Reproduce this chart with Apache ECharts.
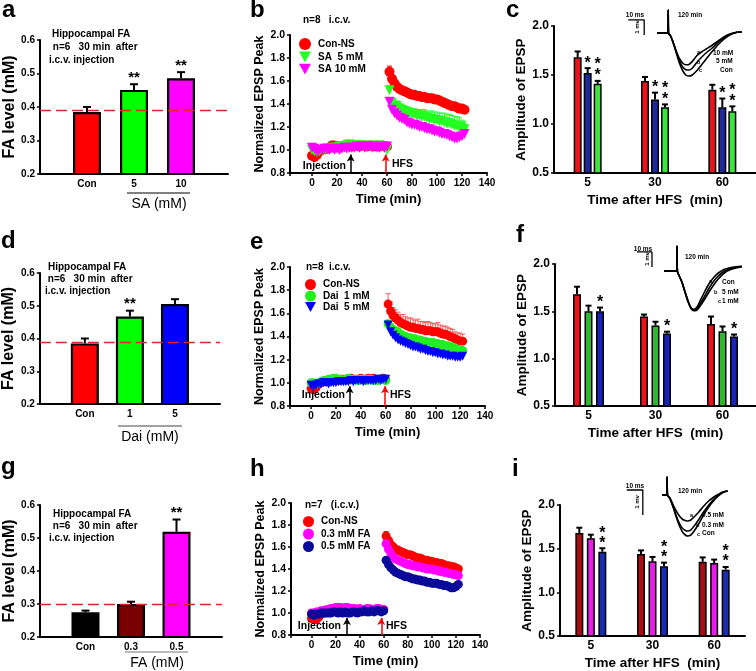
<!DOCTYPE html>
<html><head><meta charset="utf-8">
<script src="https://cdn.jsdelivr.net/npm/echarts/dist/echarts.min.js"></script>
<style>html,body{margin:0;padding:0;background:#fff}#c{width:756px;height:671px}</style>
</head><body><div id="c"></div>
<script>
// ================= DATA =================
// Panels a, d, g : FA level bars
const aCats = ['Con', '5', '10'];
const aVals = [0.385, 0.451, 0.486];
const aErr  = [0.015, 0.017, 0.018];
const aSig  = ['', '**', '**'];
const aRef  = 0.39;

const dCats = ['Con', '1', '5'];
const dVals = [0.385, 0.467, 0.505];
const dErr  = [0.015, 0.018, 0.015];
const dSig  = ['', '**', ''];
const dRef  = 0.39;

const gCats = ['Con', '0.3', '0.5'];
const gVals = [0.275, 0.300, 0.519];
const gErr  = [0.005, 0.007, 0.037];
const gSig  = ['', '', '**'];
const gRef  = 0.30;

// Panels b, e, h : time courses (min)
const tBase = [0,2,4,6,8,10,12,14,16,18,20,22,24,26,28,30,32,34,36,38,40,42,44,46,48,50,52,54,56,58,60];
const tPost = [62,64,66,68,70,72,74,76,78,80,82,84,86,88,90,92,94,96,98,100,102,104,106,108,110,112,114,116,118,120,122];

const bRedBase = [0.95,0.94,0.96,0.99,1.00,1.01,1.01,1.02,1.04,1.04,1.03,1.03,1.03,1.04,1.04,1.03,1.03,1.04,1.04,1.03,1.04,1.04,1.03,1.04,1.04,1.03,1.04,1.03,1.04,1.03,1.03];
const bRedPost = [1.68,1.62,1.58,1.55,1.53,1.52,1.51,1.50,1.49,1.48,1.48,1.47,1.47,1.46,1.46,1.45,1.45,1.45,1.44,1.44,1.43,1.42,1.41,1.40,1.39,1.38,1.38,1.37,1.36,1.36,1.35];
const bRedErr  = [0.05,0.03,0.03,0.02,0.02,0.02,0.02,0.02,0.02,0.02,0.02,0.03,0.02,0.02,0.02,0.02,0.02,0.03,0.02,0.02,0.02,0.02,0.03,0.02,0.02,0.02,0.02,0.02,0.02,0.02,0.02];
const bGreenBase = [1.00,0.99,0.98,0.99,1.00,1.00,1.01,1.01,1.02,1.02,1.02,1.03,1.03,1.03,1.04,1.05,1.04,1.04,1.04,1.04,1.03,1.04,1.03,1.03,1.04,1.03,1.03,1.04,1.03,1.02,1.00];
const bGreenPost = [1.52,1.41,1.39,1.38,1.36,1.35,1.34,1.33,1.32,1.31,1.31,1.30,1.30,1.29,1.29,1.28,1.27,1.27,1.26,1.26,1.25,1.25,1.24,1.23,1.23,1.22,1.21,1.21,1.20,1.19,1.18];
const bGreenErr  = [0.04,0.03,0.03,0.03,0.04,0.04,0.04,0.04,0.05,0.05,0.05,0.05,0.05,0.06,0.06,0.06,0.06,0.07,0.07,0.07,0.07,0.07,0.08,0.08,0.08,0.08,0.08,0.08,0.08,0.07,0.07];
const bMagBase = [1.02,1.01,0.99,1.00,1.00,1.01,1.01,1.00,1.01,1.00,1.01,1.00,1.01,1.02,1.01,1.02,1.02,1.02,1.03,1.02,1.03,1.02,1.03,1.03,1.02,1.03,1.02,1.02,1.03,1.02,1.03];
const bMagPost = [1.42,1.35,1.32,1.30,1.28,1.27,1.26,1.24,1.23,1.22,1.22,1.21,1.20,1.20,1.19,1.18,1.18,1.17,1.16,1.16,1.15,1.14,1.14,1.13,1.12,1.11,1.10,1.10,1.11,1.12,1.14];
const bMagErr  = [0.03,0.02,0.02,0.02,0.02,0.02,0.02,0.02,0.02,0.02,0.02,0.02,0.02,0.02,0.02,0.02,0.02,0.02,0.02,0.02,0.02,0.02,0.02,0.02,0.02,0.02,0.02,0.02,0.02,0.02,0.02];

const eRedBase = [0.95,0.94,0.96,0.99,1.00,1.01,1.01,1.02,1.02,1.03,1.03,1.02,1.03,1.03,1.03,1.03,1.04,1.03,1.03,1.03,1.04,1.03,1.03,1.04,1.03,1.04,1.03,1.03,1.03,1.04,1.03];
const eRedPost = [1.68,1.62,1.58,1.56,1.54,1.52,1.51,1.50,1.49,1.48,1.48,1.47,1.47,1.46,1.46,1.45,1.45,1.45,1.44,1.44,1.44,1.43,1.42,1.42,1.41,1.40,1.39,1.38,1.37,1.36,1.36];
const eRedErr  = [0.09,0.08,0.07,0.07,0.07,0.07,0.08,0.07,0.07,0.08,0.07,0.07,0.08,0.07,0.07,0.07,0.08,0.07,0.07,0.07,0.08,0.07,0.07,0.07,0.07,0.07,0.07,0.06,0.06,0.07,0.06];
const eGreenBase = [1.00,1.00,0.99,1.00,1.01,1.02,1.02,1.03,1.03,1.04,1.04,1.03,1.03,1.02,1.03,1.04,1.03,1.03,1.03,1.02,1.03,1.03,1.02,1.03,1.03,1.02,1.03,1.02,1.03,1.03,1.02];
const eGreenPost = [1.51,1.48,1.46,1.45,1.44,1.42,1.41,1.40,1.39,1.39,1.38,1.38,1.37,1.37,1.36,1.36,1.35,1.35,1.35,1.34,1.34,1.33,1.33,1.32,1.32,1.31,1.31,1.30,1.29,1.29,1.28];
const eGreenErr  = [0.03,0.03,0.02,0.02,0.03,0.02,0.02,0.03,0.02,0.02,0.03,0.02,0.02,0.03,0.02,0.02,0.03,0.02,0.02,0.03,0.02,0.02,0.03,0.02,0.02,0.03,0.02,0.02,0.03,0.02,0.02];
const eBlueBase = [0.98,0.97,0.98,0.99,0.99,1.00,1.00,0.99,1.00,1.00,1.00,1.01,1.01,1.01,1.01,1.01,1.02,1.01,1.02,1.02,1.02,1.01,1.02,1.02,1.02,1.02,1.02,1.03,1.02,1.03,1.03];
const eBluePost = [1.50,1.44,1.41,1.39,1.37,1.36,1.35,1.34,1.33,1.32,1.31,1.31,1.30,1.29,1.29,1.28,1.27,1.27,1.26,1.26,1.25,1.25,1.24,1.24,1.23,1.23,1.23,1.22,1.22,1.22,1.23];
const eBlueErr  = [0.02,0.02,0.02,0.02,0.02,0.02,0.02,0.02,0.02,0.02,0.02,0.02,0.02,0.02,0.02,0.02,0.02,0.02,0.02,0.02,0.02,0.02,0.02,0.02,0.02,0.02,0.02,0.02,0.02,0.02,0.02];

const hRedBase = [0.95,0.94,0.94,0.96,0.99,1.00,1.01,1.01,1.02,1.02,1.02,1.02,1.03,1.02,1.03,1.02,1.03,1.02,1.02,1.02,1.03,1.03,1.02,1.03,1.02,1.03,1.02,1.03,1.03,1.02,1.03];
const hRedPost = [1.70,1.66,1.62,1.60,1.58,1.57,1.56,1.55,1.54,1.53,1.53,1.52,1.51,1.50,1.50,1.49,1.48,1.48,1.47,1.47,1.46,1.46,1.45,1.45,1.44,1.43,1.43,1.42,1.42,1.41,1.40];
const hRedErr  = [0.04,0.03,0.03,0.02,0.02,0.02,0.02,0.02,0.02,0.02,0.02,0.02,0.02,0.02,0.02,0.02,0.02,0.02,0.02,0.02,0.02,0.02,0.02,0.02,0.02,0.02,0.02,0.02,0.02,0.02,0.02];
const hMagBase = [1.00,1.00,1.01,1.01,1.02,1.02,1.03,1.03,1.04,1.04,1.05,1.05,1.05,1.04,1.05,1.05,1.04,1.04,1.04,1.03,1.04,1.03,1.03,1.04,1.04,1.03,1.03,1.04,1.04,1.03,1.03];
const hMagPost = [1.63,1.58,1.54,1.51,1.49,1.48,1.47,1.46,1.45,1.44,1.44,1.43,1.43,1.42,1.42,1.41,1.41,1.40,1.40,1.40,1.39,1.39,1.38,1.38,1.37,1.37,1.36,1.36,1.35,1.35,1.34];
const hMagErr  = [0.03,0.02,0.02,0.02,0.02,0.02,0.02,0.02,0.02,0.02,0.02,0.02,0.02,0.02,0.02,0.02,0.02,0.02,0.02,0.02,0.02,0.02,0.02,0.02,0.02,0.02,0.02,0.02,0.02,0.02,0.02];
const hBlueBase = [0.99,0.98,0.99,0.99,1.00,1.00,1.00,1.00,1.00,1.01,1.01,1.00,1.01,1.00,1.01,1.00,1.00,1.01,1.01,1.00,1.01,1.01,1.02,1.01,1.01,1.02,1.01,1.02,1.02,1.01,1.02];
const hBluePost = [1.48,1.44,1.41,1.39,1.37,1.36,1.35,1.34,1.33,1.33,1.32,1.31,1.31,1.30,1.30,1.29,1.29,1.28,1.28,1.27,1.27,1.27,1.26,1.26,1.25,1.25,1.24,1.23,1.23,1.24,1.26];
const hBlueErr  = [0.02,0.02,0.02,0.02,0.02,0.02,0.02,0.02,0.02,0.02,0.02,0.02,0.02,0.02,0.02,0.02,0.02,0.02,0.02,0.02,0.02,0.02,0.02,0.02,0.02,0.02,0.02,0.02,0.02,0.02,0.02];

// arrows: [injection time, HFS time, arrow tip value]
const bArrows = [31, 59, 0.96];
const eArrows = [31, 59.5, 0.97];
const hArrows = [29.5, 58, 0.955];

// Panels c, f, i : amplitude of EPSP at 5/30/60 min after HFS
const hfsCats = ['5', '30', '60'];
const cRed = [1.68, 1.44, 1.35];   const cRedErr = [0.06, 0.04, 0.05];
const cBlue = [1.52, 1.25, 1.17];  const cBlueErr = [0.05, 0.07, 0.09];
const cGreen = [1.41, 1.17, 1.13]; const cGreenErr = [0.03, 0.03, 0.05];
const cBlueStars = [1, 1, 1];  const cGreenStars = [2, 2, 2];

const fRed = [1.68, 1.446, 1.365];  const fRedErr = [0.08, 0.02, 0.08];
const fGreen = [1.50, 1.35, 1.29];  const fGreenErr = [0.06, 0.04, 0.05];
const fBlue = [1.50, 1.265, 1.235]; const fBlueErr = [0.04, 0.02, 0.02];
const fBlueStars = [1, 1, 1];

const iRed = [1.68, 1.44, 1.35];   const iRedErr = [0.06, 0.04, 0.05];
const iMag = [1.62, 1.355, 1.335]; const iMagErr = [0.04, 0.05, 0.04];
const iBlue = [1.465, 1.30, 1.26]; const iBlueErr = [0.04, 0.04, 0.03];
const iBlueStars = [2, 2, 2];

// Inset EPSP traces (ms, mV)
const cInsetT   = [0, 6.8, 7.0, 7.2, 8.5, 10, 12, 14, 16, 18, 20, 22, 25, 28, 31, 34, 38, 42, 46, 50, 53];
const cInsetCon = [0, 0, 1.53, 0, -0.2, -0.6, -1.3, -2.0, -2.5, -2.8, -2.87, -2.8, -2.5, -2.1, -1.7, -1.3, -0.8, -0.4, -0.1, 0.05, 0.07];
const cInset5   = [0, 0, 1.53, 0, -0.2, -0.6, -1.25, -1.85, -2.25, -2.45, -2.47, -2.35, -1.95, -1.6, -1.3, -1.05, -0.65, -0.3, -0.08, 0.05, 0.07];
const cInset10  = [0, 0, 1.53, 0, -0.2, -0.6, -1.2, -1.7, -2.0, -2.12, -2.1, -1.9, -1.5, -1.25, -1.05, -0.85, -0.55, -0.25, -0.05, 0.05, 0.07];
const cScaleT = [-18, -8, -8];
const cScaleV = [0.87, 0.87, -0.13];

const fInsetT   = [0, 8.5, 8.7, 8.9, 10, 12, 14, 16, 18, 20, 22, 24, 27, 30, 33, 36, 40, 44, 48, 52];
const fInsetCon = [0, 0, 1.67, 0, -0.3, -0.75, -1.4, -2.0, -2.45, -2.55, -2.4, -2.0, -1.4, -0.85, -0.45, -0.15, 0.1, 0.22, 0.28, 0.32];
const fInset5   = [0, 0, 1.67, 0, -0.3, -0.75, -1.4, -2.0, -2.45, -2.6, -2.5, -2.2, -1.7, -1.15, -0.7, -0.35, -0.02, 0.15, 0.25, 0.3];
const fInset1   = [0, 0, 1.67, 0, -0.3, -0.75, -1.4, -2.05, -2.5, -2.65, -2.6, -2.35, -1.9, -1.4, -0.95, -0.55, -0.15, 0.08, 0.2, 0.28];
const fScaleT = [-18, -8, -8];
const fScaleV = [1.27, 1.27, 0.27];

const iInsetT   = [0, 3, 3.2, 3.4, 5, 7, 9, 11, 13, 15, 16, 18, 20, 23, 26, 29, 32, 35, 38, 41];
const iInsetCon = [0, 0, 0.72, 0, -0.15, -0.5, -0.9, -1.25, -1.5, -1.62, -1.64, -1.6, -1.45, -1.15, -0.8, -0.5, -0.25, -0.05, 0.1, 0.16];
const iInset03  = [0, 0, 0.72, 0, -0.15, -0.48, -0.85, -1.15, -1.35, -1.43, -1.44, -1.4, -1.25, -0.98, -0.68, -0.42, -0.2, -0.03, 0.1, 0.16];
const iInset05  = [0, 0, 0.72, 0, -0.12, -0.4, -0.65, -0.85, -0.98, -1.03, -1.04, -1.0, -0.88, -0.68, -0.45, -0.25, -0.1, 0.02, 0.12, 0.16];
const iScaleT = [-22, -12, -12];
const iScaleV = [0.2, 0.2, -0.8];

// ================= BUILD =================
const FONT = '"Liberation Sans", Arial, Helvetica, sans-serif';
const grids = [], xAxes = [], yAxes = [], series = [], legends = [], graphics = [];
const TRI_DOWN = 'path://M0,0L10,0L5,9Z';

function addGrid(g) { grids.push(Object.assign({ containLabel: false }, g)); return grids.length - 1; }
function txt(text, x, y, size, o) {
  o = o || {};
  const al = o.align || 'left', va = o.va || 'middle';
  graphics.push({ type: 'text', x: x, y: y, rotation: o.rot || 0, silent: true, z: 50,
    style: { text: text, x: 0, y: 0, font: (o.w || 'bold') + ' ' + size + 'px ' + FONT, fill: o.color || '#000',
      textAlign: al, textVerticalAlign: va, align: al, verticalAlign: va } });
}
function hline(x1, x2, y, color) {
  graphics.push({ type: 'line', silent: true, z: 50, shape: { x1: x1, y1: y, x2: x2, y2: y }, style: { stroke: color || '#000', lineWidth: 1 } });
}
const axisLineBlack = { show: true, onZero: false, lineStyle: { color: '#000', width: 2 } };

// ---------- bar panels a/d/g ----------
function barPanel(p) {
  const gi = addGrid(p.grid);
  xAxes.push({ type: 'category', gridIndex: gi, data: [''].concat(p.cats, ['']), boundaryGap: false,
    axisLine: axisLineBlack, axisTick: { show: false }, splitLine: { show: false },
    axisLabel: { color: '#000', fontWeight: 'bold', fontSize: 10, fontFamily: FONT, margin: 5, interval: 0 } });
  yAxes.push({ type: 'value', gridIndex: gi, min: 0.2, max: 0.6, interval: 0.1,
    axisLine: axisLineBlack, axisTick: { show: true, length: 3, lineStyle: { color: '#000', width: 1.5 } },
    axisLabel: { color: '#000', fontWeight: 'bold', fontSize: 10, fontFamily: FONT, margin: 5, formatter: v => v.toFixed(1) },
    splitLine: { show: false }, name: 'FA level (mM)', nameLocation: 'middle', nameGap: 18,
    nameTextStyle: { color: '#000', fontWeight: 'bold', fontSize: 16, fontFamily: FONT } });
  series.push({ type: 'bar', xAxisIndex: gi, yAxisIndex: gi, barWidth: 28, clip: true,
    data: [null].concat(p.vals.map((v, i) => ({ value: v, itemStyle: { color: p.colors[i] } })), [null]),
    itemStyle: { borderColor: '#000', borderWidth: 2.2 },
    markLine: { silent: true, symbol: 'none', label: { show: false }, animation: false,
      lineStyle: { color: '#e0262c', type: [11, 5], width: 1.3 }, data: [{ yAxis: p.ref }] } });
  const sig = p.sig;
  series.push({ type: 'custom', xAxisIndex: gi, yAxisIndex: gi, z: 3,
    data: p.vals.map((v, i) => [i + 1, v, p.err[i]]),
    renderItem: (params, api) => {
      const c0 = api.coord([api.value(0), api.value(1)]);
      const c1 = api.coord([api.value(0), api.value(1) + api.value(2)]);
      const ch = [
        { type: 'line', shape: { x1: c0[0], y1: c0[1], x2: c1[0], y2: c1[1] }, style: { stroke: '#000', lineWidth: 2 } },
        { type: 'line', shape: { x1: c1[0] - 4, y1: c1[1], x2: c1[0] + 4, y2: c1[1] }, style: { stroke: '#000', lineWidth: 2 } }];
      const s = sig[params.dataIndex];
      if (s) ch.push({ type: 'text', style: { text: s, x: c1[0], y: c1[1] + 1, align: 'center', verticalAlign: 'bottom',
        font: 'bold 15px ' + FONT, fill: '#000' } });
      return { type: 'group', children: ch };
    } });
}

// ---------- time-course panels b/e/h ----------
function errLine(color) {
  return (params, api) => {
    const c0 = api.coord([api.value(0), api.value(1)]);
    const c1 = api.coord([api.value(0), api.value(1) + api.value(2)]);
    return { type: 'group', children: [
      { type: 'line', shape: { x1: c0[0], y1: c0[1], x2: c1[0], y2: c1[1] }, style: { stroke: color, lineWidth: 1 } },
      { type: 'line', shape: { x1: c1[0] - 2.5, y1: c1[1], x2: c1[0] + 2.5, y2: c1[1] }, style: { stroke: color, lineWidth: 1 } }] };
  };
}
function linePanel(p) {
  const gi = addGrid(p.grid);
  xAxes.push({ type: 'value', gridIndex: gi, min: p.xmin, max: 140, splitNumber: 8,
    axisLine: axisLineBlack, axisTick: { show: true, length: 3, lineStyle: { color: '#000', width: 1.5 } },
    axisLabel: { color: '#000', fontWeight: 'bold', fontSize: 10, fontFamily: FONT, margin: 5, formatter: v => (v < 0 ? '' : String(v)) },
    splitLine: { show: false }, name: 'Time (min)', nameLocation: 'middle', nameGap: 20,
    nameTextStyle: { color: '#000', fontWeight: 'bold', fontSize: 13, fontFamily: FONT } });
  yAxes.push({ type: 'value', gridIndex: gi, min: 0.8, max: 2.0, interval: 0.2,
    axisLine: axisLineBlack, axisTick: { show: true, length: 3, lineStyle: { color: '#000', width: 1.5 } },
    axisLabel: { color: '#000', fontWeight: 'bold', fontSize: 10.5, fontFamily: FONT, margin: 5, formatter: v => v.toFixed(1) },
    splitLine: { show: false }, name: 'Normalized EPSP Peak', nameLocation: 'middle', nameGap: 22,
    nameTextStyle: { color: '#000', fontWeight: 'bold', fontSize: 12.5, fontFamily: FONT } });
  p.groups.forEach((g, k) => {
    series.push({ type: 'custom', xAxisIndex: gi, yAxisIndex: gi, silent: true,
      data: tPost.map((t, i) => [t, g.post[i], g.err[i]]), renderItem: errLine(g.errColor || g.color) });
    const s = { type: 'scatter', name: p.id + '|' + g.name, xAxisIndex: gi, yAxisIndex: gi,
      symbol: g.symbol, symbolSize: g.size, itemStyle: { color: g.color, opacity: 1 },
      data: tBase.map((t, i) => [t, g.base[i]]).concat(tPost.map((t, i) => [t, g.post[i]])) };
    if (k === 0) {
      s.markLine = { silent: true, symbol: ['none', 'arrow'], symbolSize: [6, 7], label: { show: false }, animation: false,
        data: [
          [{ coord: [p.arrows[0], 0.8], lineStyle: { color: '#000', width: 1.5, type: 'solid' } }, { coord: [p.arrows[0], p.arrows[2]] }],
          [{ coord: [p.arrows[1], 0.8], lineStyle: { color: '#f00', width: 1.5, type: 'solid' } }, { coord: [p.arrows[1], p.arrows[2]] }]] };
    }
    series.push(s);
  });
  legends.push(Object.assign({ show: true, orient: 'vertical', selectedMode: false, padding: 0,
    data: p.groups.map(g => ({ name: p.id + '|' + g.name, icon: g.symbol })),
    formatter: n => n.split('|')[1],
    textStyle: { color: '#000', fontWeight: 'bold', fontSize: 10, fontFamily: FONT, padding: [0, 0, 0, 2] } }, p.legend));
}

// ---------- grouped bar panels c/f/i ----------
function groupPanel(p) {
  const gi = addGrid(p.grid);
  xAxes.push({ type: 'category', gridIndex: gi, data: hfsCats, boundaryGap: true,
    axisLine: axisLineBlack, axisTick: { show: false }, splitLine: { show: false },
    axisLabel: { color: '#000', fontWeight: 'bold', fontSize: 12, fontFamily: FONT, margin: 4, interval: 0 },
    name: 'Time after HFS  (min)', nameLocation: 'middle', nameGap: 20,
    nameTextStyle: { color: '#000', fontWeight: 'bold', fontSize: 13.5, fontFamily: FONT, padding: p.nameShift || 0 } });
  yAxes.push({ type: 'value', gridIndex: gi, min: 0.5, max: 2.0, interval: 0.5,
    axisLine: axisLineBlack, axisTick: { show: true, length: 3, lineStyle: { color: '#000', width: 1.5 } },
    axisLabel: { color: '#000', fontWeight: 'bold', fontSize: 12, fontFamily: FONT, margin: 5, formatter: v => v.toFixed(1) },
    splitLine: { show: false }, name: 'Amplitude of EPSP', nameLocation: 'middle', nameGap: 23,
    nameTextStyle: { color: '#000', fontWeight: 'bold', fontSize: 13.5, fontFamily: FONT } });
  const bw = p.barWidth, gap = p.gapPx, n = p.groups.length;
  const total = n * bw + (n - 1) * gap;
  p.groups.forEach((g, k) => {
    series.push({ type: 'bar', xAxisIndex: gi, yAxisIndex: gi, barWidth: bw, barGap: (gap / bw * 100) + '%', clip: true,
      data: g.vals, itemStyle: { color: g.color, borderColor: '#000', borderWidth: 1.5 } });
  });
  p.groups.forEach((g, k) => {
    const dx = -total / 2 + bw / 2 + k * (bw + gap);
    const stars = g.stars || [0, 0, 0];
    series.push({ type: 'custom', xAxisIndex: gi, yAxisIndex: gi, z: 3,
      data: g.vals.map((v, i) => [i, v, g.err[i]]),
      renderItem: (params, api) => {
        const c0 = api.coord([api.value(0), api.value(1)]);
        const c1 = api.coord([api.value(0), api.value(1) + api.value(2)]);
        const x = c0[0] + dx;
        const ch = [
          { type: 'line', shape: { x1: x, y1: c0[1], x2: x, y2: c1[1] }, style: { stroke: '#000', lineWidth: 2 } },
          { type: 'line', shape: { x1: x - 3, y1: c1[1], x2: x + 3, y2: c1[1] }, style: { stroke: '#000', lineWidth: 2 } }];
        for (let s = 0; s < stars[params.dataIndex]; s++) {
          ch.push({ type: 'text', style: { text: '*', x: x, y: c1[1] + 3 - s * p.starStep, align: 'center', verticalAlign: 'bottom',
            font: 'bold 16px ' + FONT, fill: '#000' } });
        }
        return { type: 'group', children: ch };
      } });
  });
}

// ---------- inset traces ----------
function inset(p) {
  const gi = addGrid(p.grid);
  xAxes.push({ type: 'value', gridIndex: gi, min: p.xr[0], max: p.xr[1], show: false });
  yAxes.push({ type: 'value', gridIndex: gi, min: p.yr[0], max: p.yr[1], show: false });
  p.traces.forEach(tr => {
    series.push({ type: 'line', xAxisIndex: gi, yAxisIndex: gi, silent: true, showSymbol: false, symbol: 'none', clip: false,
      smooth: 0.25, lineStyle: { color: '#000', width: 1.6 }, data: p.t.map((t, i) => [t, tr[i]]) });
  });
  series.push({ type: 'line', xAxisIndex: gi, yAxisIndex: gi, silent: true, showSymbol: false, symbol: 'none', clip: false,
    lineStyle: { color: '#000', width: 1.3 }, data: p.scaleT.map((t, i) => [t, p.scaleV[i]]) });
}

// ===== Panel a =====
barPanel({ grid: { left: 40, top: 40, width: 188, height: 134 }, cats: aCats, vals: aVals, err: aErr, sig: aSig, ref: aRef,
  colors: ['#ff0000', '#00ff00', '#ff00ff'] });
// ===== Panel d =====
barPanel({ grid: { left: 37, top: 273, width: 183, height: 131 }, cats: dCats, vals: dVals, err: dErr, sig: dSig, ref: dRef,
  colors: ['#ff0000', '#00ff00', '#0000ff'] });
// ===== Panel g =====
barPanel({ grid: { left: 40, top: 505, width: 182, height: 132 }, cats: gCats, vals: gVals, err: gErr, sig: gSig, ref: gRef,
  colors: ['#000000', '#7a0000', '#ff00ff'] });

// ===== Panel b =====
linePanel({ id: 'b', grid: { left: 290, top: 35, width: 197, height: 138 }, xmin: -17.6, arrows: bArrows,
  legend: { left: 299, top: 38, itemWidth: 12, itemHeight: 12, itemGap: 1.5 },
  groups: [
    { name: 'Con-NS', color: '#ff0000', symbol: 'circle', size: 10, base: bRedBase, post: bRedPost, err: bRedErr },
    { name: 'SA  5 mM', color: '#22ff22', symbol: TRI_DOWN, size: 10, base: bGreenBase, post: bGreenPost, err: bGreenErr },
    { name: 'SA 10 mM', color: '#ff00ff', symbol: TRI_DOWN, size: 10, base: bMagBase, post: bMagPost, err: bMagErr }] });
// ===== Panel e =====
linePanel({ id: 'e', grid: { left: 290, top: 267, width: 195, height: 139 }, xmin: -17, arrows: eArrows,
  legend: { left: 305, top: 279, itemWidth: 11, itemHeight: 11, itemGap: 0.5 },
  groups: [
    { name: 'Con-NS', color: '#ff0000', symbol: 'circle', size: 9, base: eRedBase, post: eRedPost, err: eRedErr, errColor: '#f06060' },
    { name: 'Dai  1 mM', color: '#22ee22', symbol: 'circle', size: 9, base: eGreenBase, post: eGreenPost, err: eGreenErr },
    { name: 'Dai  5 mM', color: '#0000ff', symbol: TRI_DOWN, size: 9, base: eBlueBase, post: eBluePost, err: eBlueErr }] });
// ===== Panel h =====
linePanel({ id: 'h', grid: { left: 291, top: 503, width: 189, height: 132 }, xmin: -17, arrows: hArrows,
  legend: { left: 303, top: 516, itemWidth: 11, itemHeight: 11, itemGap: 1.5 },
  groups: [
    { name: 'Con-NS', color: '#ff0000', symbol: 'circle', size: 9, base: hRedBase, post: hRedPost, err: hRedErr },
    { name: '0.3 mM FA', color: '#ff00ff', symbol: 'circle', size: 9, base: hMagBase, post: hMagPost, err: hMagErr },
    { name: '0.5 mM FA', color: '#0a0a9a', symbol: 'circle', size: 9, base: hBlueBase, post: hBluePost, err: hBlueErr }] });

// ===== Panel c =====
groupPanel({ grid: { left: 554, top: 26, width: 202, height: 147 }, barWidth: 8, gapPx: 2, starStep: 11,
  groups: [
    { color: '#e8141c', vals: cRed, err: cRedErr },
    { color: '#1e2a9a', vals: cBlue, err: cBlueErr, stars: cBlueStars },
    { color: '#3ce43c', vals: cGreen, err: cGreenErr, stars: cGreenStars }] });
// ===== Panel f =====
groupPanel({ grid: { left: 555, top: 264, width: 205, height: 142 }, barWidth: 8, gapPx: 3.5, starStep: 11,
  groups: [
    { color: '#e8141c', vals: fRed, err: fRedErr },
    { color: '#2eb82e', vals: fGreen, err: fGreenErr },
    { color: '#1a22b8', vals: fBlue, err: fBlueErr, stars: fBlueStars }] });
// ===== Panel i =====
groupPanel({ grid: { left: 560, top: 505, width: 185, height: 132 }, barWidth: 8, gapPx: 3.5, starStep: 10,
  groups: [
    { color: '#a80f14', vals: iRed, err: iRedErr },
    { color: '#e61ee6', vals: iMag, err: iMagErr },
    { color: '#1a2cb0', vals: iBlue, err: iBlueErr, stars: iBlueStars }] });

// ===== Insets =====
inset({ grid: { left: 625, top: 7.5, width: 120, height: 72 }, xr: [-20, 55], yr: [-3.1, 1.7],
  t: cInsetT, traces: [cInsetCon, cInset5, cInset10], scaleT: cScaleT, scaleV: cScaleV });
inset({ grid: { left: 634, top: 244, width: 112.5, height: 69 }, xr: [-20, 55], yr: [-2.8, 1.8],
  t: fInsetT, traces: [fInsetCon, fInset5, fInset1], scaleT: fScaleT, scaleV: fScaleV });
inset({ grid: { left: 622, top: 470, width: 112, height: 70 }, xr: [-25, 45], yr: [-1.8, 1.0],
  t: iInsetT, traces: [iInsetCon, iInset03, iInset05], scaleT: iScaleT, scaleV: iScaleV });

// ===== Texts =====
// panel letters
txt('a', 2, 10, 24); txt('b', 250, 10, 24); txt('c', 506, 10, 24);
txt('d', 1, 241, 24); txt('e', 250, 242, 24); txt('f', 516, 235, 24);
txt('g', 1, 467, 24); txt('h', 250, 469, 24); txt('i', 512, 469, 24);
// annotations a/d/g
[['Hippocampal FA', 52, 34], [' n=6   30 min  after', 50, 47], ['i.c.v. injection', 49, 60]].forEach(a => txt(a[0], a[1], a[2], 10));
[['Hippocampal FA', 48, 267], [' n=6   30 min  after', 45, 279], ['i.c.v. injection', 45, 291]].forEach(a => txt(a[0], a[1], a[2], 10));
[['Hippocampal FA', 53, 514], [' n=6   30 min  after', 50, 526], ['i.c.v. injection', 49, 538]].forEach(a => txt(a[0], a[1], a[2], 10));
// group labels
hline(127, 190, 193, '#000'); txt('SA (mM)', 159, 204, 14, { align: 'center', w: 'normal' });
hline(118, 182, 426, '#444'); txt('Dai (mM)', 150, 437, 14, { align: 'center', w: 'normal' });
hline(125, 188, 652, '#777'); txt('FA (mM)', 157, 663, 14, { align: 'center', w: 'normal' });
// time-course panel texts
txt('n=8   i.c.v.', 303, 20, 10);
txt('Injection', 346, 166, 10.5, { align: 'right' }); txt('HFS', 392, 164, 10.5);
txt('n=8  i.c.v.', 306, 267, 10);
txt('Injection', 345, 395, 10.5, { align: 'right' }); txt('HFS', 390, 395, 10.5);
txt('n=7   (i.c.v.)', 305, 505, 10);
txt('Injection', 341, 626, 10.5, { align: 'right' }); txt('HFS', 386, 626, 10.5);
// inset texts c
txt('10 ms', 635, 15, 6.5, { align: 'center' }); txt('1 mv', 637, 27, 6, { align: 'center', rot: Math.PI / 2 });
txt('120 min', 690, 15, 6.5, { align: 'center' });
txt('a', 697, 52, 5.5); txt('b', 697, 62, 5.5); txt('c', 699, 70, 5.5);
txt('10 mM', 713, 53, 6.5); txt('5 mM', 716, 61, 6.5); txt('Con', 720, 70, 6.5);
// inset texts f
txt('10 ms', 643, 249, 6.5, { align: 'center' }); txt('1 mv', 647, 259, 6, { align: 'center', rot: Math.PI / 2 });
txt('120 min', 697, 257, 6.5, { align: 'center' });
txt('a', 709, 281, 5.5); txt('b', 714, 292, 5.5); txt('c', 718, 301, 5.5);
txt('Con', 722, 282, 6.5); txt('5 mM', 722, 292, 6.5); txt('1 mM', 722, 301, 6.5);
// inset texts i
txt('10 ms', 635, 486, 6.5, { align: 'center' }); txt('1 mv', 637, 502, 6, { align: 'center', rot: Math.PI / 2 });
txt('120 min', 690, 491, 6.5, { align: 'center' });
txt('a', 690, 515, 5.5); txt('b', 696, 525, 5.5); txt('c', 697, 534, 5.5);
txt('0.5 mM', 702, 515, 6.5); txt('0.3 mM', 702, 525, 6.5); txt('Con', 702, 533, 6.5);

const chart = echarts.init(document.getElementById('c'), null, { renderer: 'canvas' });
chart.setOption({
  backgroundColor: '#fff', animation: false,
  textStyle: { fontFamily: FONT },
  grid: grids, xAxis: xAxes, yAxis: yAxes, series: series, legend: legends, graphic: { elements: graphics }
});
</script>
</body></html>
